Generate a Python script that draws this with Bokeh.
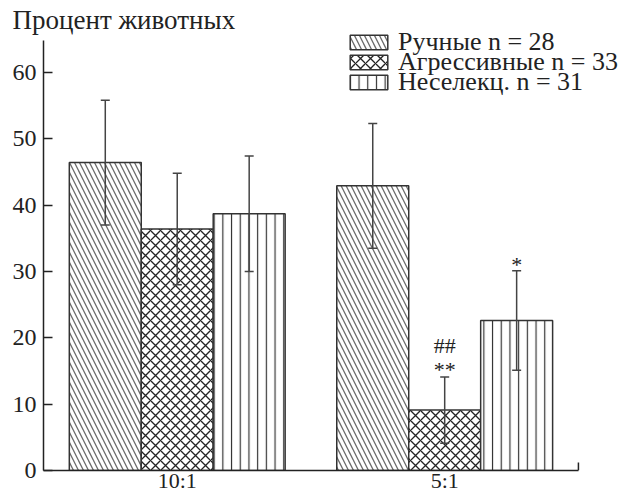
from bokeh.plotting import figure
from bokeh.models import (ColumnDataSource, FixedTicker, Legend, LegendItem,
                          Whisker, TeeHead, Range1d)
from bokeh.transform import dodge
from bokeh.core.properties import value
from bokeh.embed import file_html
from bokeh.resources import INLINE

# Share of animals (%) per stimulus ratio, mean ± SE
ratios = ["10:1", "5:1"]
tame = [46.4, 42.9]
tame_err = [9.4, 9.4]
aggressive = [36.4, 9.1]
aggressive_err = [8.4, 5.0]
unselected = [38.7, 22.6]
unselected_err = [8.7, 7.5]

# significance marks
aggressive_stars = ["", "**"]
aggressive_hashes = ["", "##"]
unselected_stars = ["", "*"]

series_labels = ["Ручные n = 28", "Агрессивные n = 33", "Неселекц. n = 31"]
y_ticks = [0, 10, 20, 30, 40, 50, 60]
y_top = 64.8

FONT = "'Liberation Serif', 'Times New Roman', serif"
INK = "#222222"
BAR_W = 0.269

def with_bounds(vals, errs):
    return ([v - e for v, e in zip(vals, errs)], [v + e for v, e in zip(vals, errs)])

tl, tu = with_bounds(tame, tame_err)
al, au = with_bounds(aggressive, aggressive_err)
ul, uu = with_bounds(unselected, unselected_err)

group_x = list(range(len(ratios)))
x_start = group_x[0] - 0.5
x_end = group_x[-1] + 0.5

src = ColumnDataSource(dict(
    gx=group_x,
    tame=tame, tame_lo=tl, tame_hi=tu,
    aggr=aggressive, aggr_lo=al, aggr_hi=au,
    unsel=unselected, unsel_lo=ul, unsel_hi=uu,
    aggr_stars=aggressive_stars, aggr_hashes=aggressive_hashes,
    unsel_stars=unselected_stars,
))

p = figure(width=629, height=496,
           x_range=Range1d(x_start, 1.676),
           y_range=Range1d(0, 66.6),
           output_backend="svg", toolbar_location=None,
           min_border_left=43, min_border_right=4,
           min_border_top=28, min_border_bottom=26,
           title="Процент животных")
p.outline_line_color = None
p.grid.visible = False
p.background_fill_color = "white"
p.border_fill_color = "white"

p.title.text_font = FONT
p.title.text_font_size = "27px"
p.title.text_font_style = "normal"
p.title.text_color = INK
p.title.align = "left"
p.title.offset = -31
p.title.standoff = -13

bar_style = dict(line_color="#333333", line_width=1.5, fill_color="white")
r_tame = p.vbar(x=dodge("gx", -BAR_W), top="tame", width=BAR_W,
                source=src, hatch_pattern="\\", hatch_color="#6a6a6a",
                hatch_weight=1.3, hatch_scale=10, **bar_style)
r_aggr = p.vbar(x=dodge("gx", 0), top="aggr", width=BAR_W,
                source=src, hatch_pattern="x", hatch_color="#222222",
                hatch_weight=1.3, hatch_scale=10, **bar_style)
r_unsel = p.vbar(x=dodge("gx", BAR_W), top="unsel", width=BAR_W,
                 source=src, hatch_pattern="|", hatch_color="#333333",
                 hatch_weight=1.2, hatch_scale=8.7, **bar_style)

for off, lo, hi in [(-BAR_W, "tame_lo", "tame_hi"), (0, "aggr_lo", "aggr_hi"),
                    (BAR_W, "unsel_lo", "unsel_hi")]:
    w = Whisker(base=dodge("gx", off), lower=lo, upper=hi,
                source=src, line_color="#444444", line_width=1.5, level="annotation",
                upper_head=TeeHead(size=9, line_color="#444444", line_width=1.5),
                lower_head=TeeHead(size=9, line_color="#444444", line_width=1.5))
    p.add_layout(w)

mark_style = dict(text_font=value(FONT), text_font_size="22px", text_color=INK,
                  text_align="center", text_baseline="middle", source=src)
p.text(x=dodge("gx", 0), y="aggr_hi", text="aggr_stars", y_offset=-7, **mark_style)
p.text(x=dodge("gx", 0), y="aggr_hi", text="aggr_hashes", y_offset=-31, **mark_style)
p.text(x=dodge("gx", BAR_W), y="unsel_hi", text="unsel_stars", y_offset=-6, **mark_style)

# small closing tick at the right end of the baseline
edge_src = ColumnDataSource(dict(x=[x_end], y0=[0], y1=[1.2]))
p.segment(x0="x", x1="x", y0="y0", y1="y1", source=edge_src,
          line_color=INK, line_width=1.5)

# axes
p.yaxis.ticker = FixedTicker(ticks=y_ticks)
p.yaxis.bounds = (0, y_top)
p.yaxis.major_tick_in = 9
p.yaxis.major_tick_out = 0
p.yaxis.minor_tick_line_color = None
p.yaxis.major_label_standoff = 7
p.yaxis.major_label_text_font = FONT
p.yaxis.major_label_text_font_size = "24px"
p.yaxis.major_label_text_color = INK
p.yaxis.axis_line_width = 1.5
p.yaxis.axis_line_color = INK
p.yaxis.major_tick_line_width = 1.5
p.yaxis.major_tick_line_color = INK

p.xaxis.ticker = FixedTicker(ticks=group_x)
p.xaxis.major_label_overrides = {gx: r for gx, r in zip(group_x, ratios)}
p.xaxis.bounds = (x_start, x_end)
p.xaxis.major_tick_in = 0
p.xaxis.major_tick_out = 0
p.xaxis.major_tick_line_color = None
p.xaxis.minor_tick_line_color = None
p.xaxis.major_label_text_font = FONT
p.xaxis.major_label_text_font_size = "22px"
p.xaxis.major_label_text_color = INK
p.xaxis.major_label_standoff = -3
p.xaxis.axis_line_width = 1.5
p.xaxis.axis_line_color = INK

# one legend block per series so that rows sit at a fixed pitch
renderers = [r_tame, r_aggr, r_unsel]
ROW_H = 40
for i, (lbl, r) in enumerate(zip(series_labels, renderers)):
    lg = Legend(items=[LegendItem(label=lbl, renderers=[r])],
                location=(302, 408 - 20 * i), orientation="vertical",
                glyph_width=47, glyph_height=18, label_standoff=6,
                spacing=0, padding=0, margin=0,
                label_text_font=FONT, label_text_font_size="26px",
                label_text_color=INK, label_height=ROW_H,
                background_fill_alpha=0, border_line_color=None)
    p.add_layout(lg, "center")

open("out.html", "w").write(file_html(p, INLINE))
